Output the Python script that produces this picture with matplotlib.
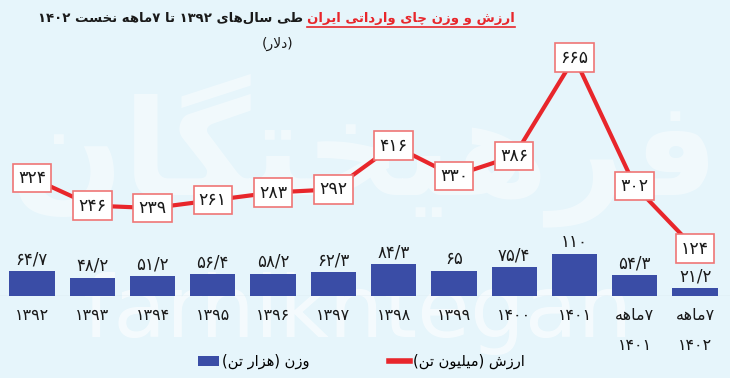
import re
import matplotlib
matplotlib.use('Agg')
import matplotlib.pyplot as plt
from matplotlib.patches import Patch
from matplotlib.lines import Line2D
from matplotlib.transforms import IdentityTransform

plt.rcParams['font.family'] = ['DejaVu Sans']

# data
years = ['۱۳۹۲', '۱۳۹۳', '۱۳۹۴', '۱۳۹۵', '۱۳۹۶', '۱۳۹۷', '۱۳۹۸', '۱۳۹۹',
         '۱۴۰۰', '۱۴۰۱', '۷ماهه\n۱۴۰۱', '۷ماهه\n۱۴۰۲']
value = [324, 246, 239, 261, 283, 292, 416, 330, 386, 665, 302, 124]
weight = [64.7, 48.2, 51.2, 56.4, 58.2, 62.3, 84.3, 65, 75.4, 110, 54.3, 21.2]

title_red = 'ارزش و وزن چای وارداتی ایران'
title_black = 'طی سال\u200cهای ۱۳۹۲ تا ۷ماهه نخست ۱۴۰۲'
subtitle = '(دلار)'
legend_weight = 'وزن (هزار تن)'
legend_value = 'ارزش (میلیون تن)'

BG = '#E6F5FB'
BLUE = '#3A4DA6'
RED = '#E8262B'

# --- minimal arabic/persian shaping + visual reordering (no bidi libs here)
FORMS = {
    'ا': ('\uFE8D', '\uFE8E', None, None),
    'د': ('\uFEA9', '\uFEAA', None, None),
    'ر': ('\uFEAD', '\uFEAE', None, None),
    'ز': ('\uFEAF', '\uFEB0', None, None),
    'و': ('\uFEED', '\uFEEE', None, None),
    'ت': ('\uFE95', '\uFE96', '\uFE97', '\uFE98'),
    'خ': ('\uFEA5', '\uFEA6', '\uFEA7', '\uFEA8'),
    'س': ('\uFEB1', '\uFEB2', '\uFEB3', '\uFEB4'),
    'ش': ('\uFEB5', '\uFEB6', '\uFEB7', '\uFEB8'),
    'ط': ('\uFEC1', '\uFEC2', '\uFEC3', '\uFEC4'),
    'ل': ('\uFEDD', '\uFEDE', '\uFEDF', '\uFEE0'),
    'م': ('\uFEE1', '\uFEE2', '\uFEE3', '\uFEE4'),
    'ن': ('\uFEE5', '\uFEE6', '\uFEE7', '\uFEE8'),
    'ه': ('\uFEE9', '\uFEEA', '\uFEEB', '\uFEEC'),
    'ف': ('\uFED1', '\uFED2', '\uFED3', '\uFED4'),
    'چ': ('\uFB7A', '\uFB7B', '\uFB7C', '\uFB7D'),
    'گ': ('\uFB92', '\uFB93', '\uFB94', '\uFB95'),
    'ی': ('\uFBFC', '\uFBFD', '\uFBFE', '\uFBFF'),
}


def joins_next(c):
    return c in FORMS and FORMS[c][2] is not None


def shape(word):
    out = []
    i = 0
    n = len(word)
    while i < n:
        c = word[i]
        if c not in FORMS:
            out.append(c)
            i += 1
            continue
        prev = i > 0 and joins_next(word[i - 1])
        if c == 'ل' and i + 1 < n and word[i + 1] == 'ا':
            out.append('\uFEFC' if prev else '\uFEFB')
            i += 2
            continue
        nxt = i + 1 < n and joins_next(c) and word[i + 1] in FORMS
        iso, fin, ini, med = FORMS[c]
        if prev and nxt:
            out.append(med)
        elif prev:
            out.append(fin)
        elif nxt:
            out.append(ini)
        else:
            out.append(iso)
        i += 1
    return ''.join(out).replace('\u200c', '')


MIRROR = str.maketrans('()', ')(')


def rtl_line(text):
    s = shape(text)
    runs = re.findall(r'[۰-۹0-9/]+|[^۰-۹0-9/]+', s)
    out = []
    for r in reversed(runs):
        if re.match(r'[۰-۹0-9/]', r):
            out.append(r)
        else:
            out.append(r[::-1].translate(MIRROR))
    return ''.join(out)


def rtl(text):
    return '\n'.join(rtl_line(l) for l in text.split('\n'))


FA = str.maketrans('0123456789', '۰۱۲۳۴۵۶۷۸۹')


def fa_num(v):
    return ('%g' % v).replace('.', '/').translate(FA)


fig = plt.figure(figsize=(7.3, 3.78), dpi=100, facecolor=BG)

# watermark
fig.text(0.5, 0.60, rtl('فرهیختگان'), fontsize=96, fontweight='bold',
         color='white', alpha=0.45, ha='center', va='center', zorder=-2)
fig.text(0.49, 0.17, 'farhikhtegan', fontsize=62, color='white', alpha=0.6,
         ha='center', va='center', zorder=-2)

ax = fig.add_axes([0, 82 / 378, 1, 296 / 378])
ax.set_facecolor('none')
x = list(range(len(years)))
bars = ax.bar(x, weight, width=0.75, color=BLUE, zorder=2)
ax.axhline(0, color='#D3E2E9', lw=1, zorder=1)
ax.bar_label(bars, labels=[fa_num(w) for w in weight], padding=2,
             fontsize=12, color='#1a1a1a')
ax.set_xlim(-0.53, 11.58)
ax.set_ylim(0, 775)
ax.set_xticks(x, labels=[rtl(y) for y in years])
ax.tick_params(axis='x', length=0, pad=9, labelsize=11.5, labelcolor='#1a1a1a')
for lbl in ax.get_xticklabels():
    lbl.set_linespacing(2.2)
ax.set_yticks([])
for s in ax.spines.values():
    s.set_visible(False)

ax2 = ax.twinx()
ax2.plot(x, value, color=RED, lw=3, zorder=3, solid_joinstyle='miter')
for xi, v in zip(x, value):
    ax2.text(xi, v, fa_num(v), ha='center', va='center', fontsize=12.5,
             color='#1a1a1a', zorder=4,
             bbox=dict(boxstyle='square,pad=0.3', fc='white',
                       ec='#EF7575', lw=1.2))
ax2.set_ylim(-10, 828)
ax2.set_yticks([])
for s in ax2.spines.values():
    s.set_visible(False)

# title
t_red = fig.text(0.705, 0.952, rtl(title_red), color=RED, fontsize=9.5,
                 fontweight='bold', ha='right', va='center')
ax2.annotate(rtl(title_black), xy=(0, 0.5), xycoords=t_red, xytext=(-3, 0),
             textcoords='offset points', ha='right', va='center',
             fontsize=9.5, fontweight='bold', color='#1a1a1a',
             annotation_clip=False)
fig.text(0.38, 0.883, rtl(subtitle), fontsize=10, color='#1a1a1a',
         ha='center', va='center')

handles = [Patch(fc=BLUE, ec='none'), Line2D([], [], color=RED, lw=4)]
fig.legend(handles, [rtl(legend_weight), rtl(legend_value)], ncol=2,
           loc='center', bbox_to_anchor=(0.495, 0.043), frameon=False,
           fontsize=10.5, columnspacing=5.5, handlelength=1.4,
           handletextpad=0.2)

fig.canvas.draw()
bb = t_red.get_window_extent()
fig.add_artist(Line2D([bb.x0, bb.x1], [bb.y0 - 2, bb.y0 - 2],
                      transform=IdentityTransform(), color=RED, lw=1.2))

fig.savefig('out.png', dpi=100, facecolor=BG)
